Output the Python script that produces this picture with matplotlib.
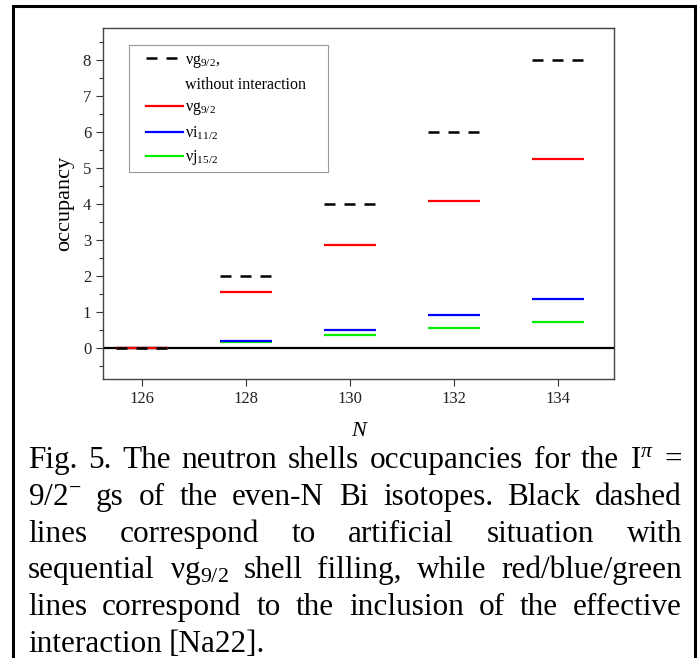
import matplotlib
matplotlib.use("Agg")
import matplotlib.pyplot as plt
from matplotlib.lines import Line2D
from matplotlib.patches import Rectangle
import numpy as np

plt.rcParams['font.family'] = ['Liberation Serif', 'DejaVu Serif']
plt.rcParams['mathtext.fontset'] = 'custom'
plt.rcParams['mathtext.rm'] = 'Liberation Serif'
plt.rcParams['mathtext.it'] = 'Liberation Serif:italic'

# --- data ---
n_values = [126, 128, 130, 132, 134]
occ_free = [0, 2, 4, 6, 8]               # vg9/2 without interaction
occ_g92 = [0, 1.54, 2.87, 4.09, 5.26]    # vg9/2
occ_i112 = [0, 0.19, 0.49, 0.90, 1.37]   # vi11/2
occ_j152 = [0, 0.15, 0.35, 0.54, 0.73]   # vj15/2

labels = ['\u03bdg$_{9/2}$,', 'without interaction',
          '\u03bdg$_{9/2}$', '\u03bdi$_{11/2}$', '\u03bdj$_{15/2}$']

caption = [
    ['Fig.', '5.', 'The', 'neutron', 'shells', 'occupancies', 'for', 'the', 'I$^{\\pi}$', '='],
    ['9/2$^{-}$', 'gs', 'of', 'the', 'even-N', 'Bi', 'isotopes.', 'Black', 'dashed'],
    ['lines', 'correspond', 'to', 'artificial', 'situation', 'with'],
    ['sequential', '\u03bdg$_{9/2}$', 'shell', 'filling,', 'while', 'red/blue/green'],
    ['lines', 'correspond', 'to', 'the', 'inclusion', 'of', 'the', 'effective'],
    ['interaction', '[Na22].'],
]

W, H = 699, 658
AX_L, AX_T, AX_W, AX_H = 103, 28, 511, 351
fig = plt.figure(figsize=(W / 100, H / 100), dpi=100)
ax = fig.add_axes([AX_L / W, 1 - (AX_T + AX_H) / H, AX_W / W, AX_H / H])

n = np.array(n_values)
half = 0.5
ax.axhline(0, color='black', lw=1.6, zorder=1)
ax.hlines(occ_j152, n - half, n + half, colors='#00ee00', lw=1.6, zorder=2)
ax.hlines(occ_i112, n - half, n + half, colors='#0000ff', lw=1.6, zorder=3)
ax.hlines(occ_g92, n - half, n + half, colors='#ff0000', lw=1.6, zorder=4)
ax.hlines(occ_free, n - half, n + half, colors='black', lw=1.8,
          linestyles=[(0, (4.4, 3.6))], zorder=5)

ax.set_xlim(125.25, 135.08)
ax.set_ylim(-0.87, 8.9)
ax.set_xticks(n_values)
ax.set_yticks(range(0, 9))
ax.set_yticks(np.arange(-0.5, 9, 1.0), minor=True)
ax.tick_params(axis='both', direction='out', labelsize=12, length=5, width=0.8, colors='#333333',
               labelcolor='#222222')
ax.tick_params(axis='y', which='minor', direction='out', length=3, width=0.8, colors='#333333')
ax.tick_params(top=False, right=False)
for s in ax.spines.values():
    s.set_color('#444444')
    s.set_linewidth(1.0)

ax.set_ylabel('occupancy', fontsize=16, labelpad=6)
ax.set_xlabel('N', fontsize=16, style='italic', labelpad=11)

# legend: frameless entries plus a plain box drawn behind them
handles = [
    Line2D([], [], color='black', lw=1.8, linestyle=(0, (4.4, 3.6))),
    Line2D([], [], color='none'),
    Line2D([], [], color='#ff0000', lw=1.6),
    Line2D([], [], color='#0000ff', lw=1.6),
    Line2D([], [], color='#00ee00', lw=1.6),
]
leg = ax.legend(handles, labels, loc='upper left',
                bbox_to_anchor=((146 - AX_L) / AX_W, 1 - (52 - AX_T) / AX_H),
                fontsize=11.5, frameon=False, handlelength=2.3, handletextpad=0.15,
                labelspacing=0.42, borderpad=0, borderaxespad=0)
leg.set_zorder(7)
ax.add_patch(Rectangle(((129 - AX_L) / AX_W, 1 - (172 - AX_T) / AX_H), 199 / AX_W, 127 / AX_H,
                       transform=ax.transAxes, facecolor='white', edgecolor='#999999',
                       lw=0.8, zorder=6))

# outer frame around figure + caption
fig.patches.append(Rectangle((13 / W, -0.02), 682 / W, 1 - 6 / H + 0.02, transform=fig.transFigure,
                             fill=False, edgecolor='black', lw=2.2))

# justified caption
renderer = fig.canvas.get_renderer()
x_left, x_right = 28, 682
baseline0, step = 468, 36.8
for i, words in enumerate(caption):
    y = 1 - (baseline0 + i * step) / H
    texts = [fig.text(0, y, w, fontsize=22.5, va='baseline', ha='left') for w in words]
    widths = [t.get_window_extent(renderer).width for t in texts]
    if i == len(caption) - 1:
        gap = 7
    else:
        gap = (x_right - x_left - sum(widths)) / (len(words) - 1)
    x = x_left
    for t, w in zip(texts, widths):
        t.set_x(x / W)
        x += w + gap

fig.savefig('out.png', dpi=100)
